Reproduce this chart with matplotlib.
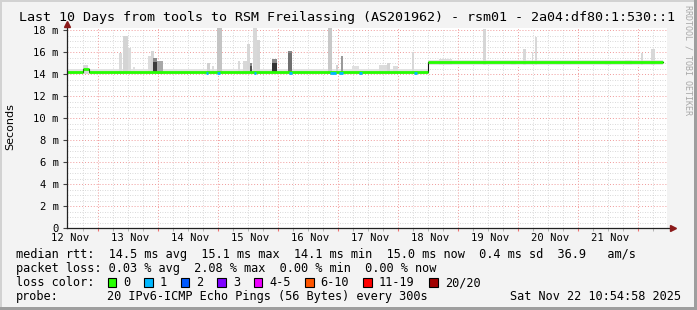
import matplotlib
matplotlib.use("Agg")
import matplotlib.pyplot as plt
from matplotlib.patches import Rectangle

W, H = 697, 310

# time axis: hours after 12 Nov 00:00
x_start, x_end = 11.6, 251.6
day_ticks = [24, 48, 72, 96, 120, 144, 168, 192, 216, 240]
day_label_pos = [12, 36, 60, 84, 108, 132, 156, 180, 204, 228]
day_labels = ["12 Nov", "13 Nov", "14 Nov", "15 Nov", "16 Nov",
              "17 Nov", "18 Nov", "19 Nov", "20 Nov", "21 Nov"]

# median rtt (ms), step changes
med_t = [11.6, 18.0, 20.4, 156.0, 250.0]
med_v = [14.2, 14.5, 14.2, 15.05, 15.05]

# background smoke band around the median
band_t = [11.6, 156.0, 156.0, 250.0]
band_lo = [14.0, 14.0, 14.85, 14.85]
band_hi = [14.45, 14.45, 15.3, 15.3]

# smoke spikes: centre time (h), width (h), top (ms), grey shade
spike_t = [19.0, 33.0, 35.0, 36.6, 38.4, 44.6, 45.8, 48.8,
           68.0, 70.0, 72.6, 80.4, 82.8, 84.2, 86.8, 88.2,
           116.8, 119.6, 121.6, 127.0, 138.0, 140.0, 143.0, 150.0,
           163.0, 178.6, 190.0, 194.6, 197.8, 199.2, 210.0, 228.0,
           236.0, 241.6, 246.0]
spike_w = [2.0, 1.2, 2.0, 1.2, 0.8, 1.2, 1.2, 2.4,
           1.2, 0.8, 2.0, 0.8, 1.6, 1.2, 1.6, 1.2,
           1.6, 0.8, 0.8, 2.8, 3.2, 1.2, 2.0, 0.8,
           5.0, 1.2, 2.0, 1.2, 0.6, 0.8, 6.0, 2.4,
           2.8, 0.6, 1.6]
spike_top = [14.8, 15.9, 17.5, 16.4, 14.6, 15.6, 16.1, 15.2,
             15.0, 14.7, 18.3, 15.2, 15.2, 16.7, 18.3, 17.1,
             18.3, 14.8, 15.6, 14.7, 14.8, 15.0, 14.7, 16.0,
             15.35, 18.1, 15.2, 16.3, 16.0, 17.4, 15.2, 15.2,
             15.3, 15.9, 16.3]
spike_c = ["#d8d8d8", "#dadada", "#d4d4d4", "#dadada", "#e0e0e0", "#dcdcdc", "#d6d6d6", "#a8a8a8",
           "#d0d0d0", "#dcdcdc", "#c4c4c4", "#dadada", "#d8d8d8", "#d6d6d6", "#d8d8d8", "#d6d6d6",
           "#c8c8c8", "#d0d0d0", "#9a9a9a", "#e0e0e0", "#dcdcdc", "#d4d4d4", "#dcdcdc", "#d8d8d8",
           "#dcdcdc", "#d6d6d6", "#dcdcdc", "#d8d8d8", "#d8d8d8", "#d8d8d8", "#e0e0e0", "#dcdcdc",
           "#dcdcdc", "#d8d8d8", "#d8d8d8"]

# dark smoke blocks (high variance with all pings)
dark_t = [46.8, 85.2, 94.6, 100.8]
dark_w = [1.6, 0.8, 2.0, 1.6]
dark_top = [15.5, 15.0, 15.4, 16.1]
dark_mid = [15.1, 14.7, 15.0, 15.9]
dark_c = ["#3c3c3c", "#505050", "#343434", "#707070"]

# intervals with 1 lost ping
loss1_t = [67.6, 72.0, 86.8, 100.8, 118.0, 121.2, 129.0, 151.0]
loss1_w = [1.0, 1.2, 1.0, 1.2, 2.4, 1.6, 1.2, 1.2]

loss_labels = ["0", "1", "2", "3", "4-5", "6-10", "11-19", "20/20"]
loss_colors = ["#26ff00", "#00b8ff", "#0059ff", "#7e00ff", "#ee00ff",
               "#ff5500", "#ff0000", "#a10000"]

MONO = "DejaVu Sans Mono"

fig = plt.figure(figsize=(W / 100, H / 100), dpi=100, facecolor="#f3f3f3")


def fx(x):
    return x / W


def fy(y):
    return 1 - y / H


# frame shading
fig.add_artist(Rectangle((0, fy(2)), 1, 2 / H, transform=fig.transFigure, color="#d2d2d2", lw=0))
fig.add_artist(Rectangle((0, 0), 2 / W, 1, transform=fig.transFigure, color="#d2d2d2", lw=0))
fig.add_artist(Rectangle((fx(694), 0), 3 / W, 1, transform=fig.transFigure, color="#9e9e9e", lw=0))
fig.add_artist(Rectangle((0, 0), 1, 3 / H, transform=fig.transFigure, color="#9e9e9e", lw=0))

ax = fig.add_axes([fx(67), fy(228), fx(600), (228 - 27.8) / H])
ax.set_facecolor("white")
ax.set_xlim(x_start, x_end)
ax.set_ylim(0, 18.2)
for s in ax.spines.values():
    s.set_visible(False)

# grid
for v in [i * 0.5 for i in range(1, 37)]:
    if v % 2 == 0:
        continue
    ax.axhline(v, color="#cccccc", lw=0.6, ls=(0, (1, 2)), zorder=0)
for h in range(18, 252, 6):
    if h % 24:
        ax.axvline(h, color="#cccccc", lw=0.6, ls=(0, (1, 2)), zorder=0)
for v in range(2, 19, 2):
    ax.axhline(v, color="#f09a9a", lw=0.7, ls=(0, (1, 2)), zorder=0.5)
for d in day_ticks:
    ax.axvline(d, color="#f09a9a", lw=0.7, ls=(0, (1, 2)), zorder=0.5)

# smoke
ax.fill_between(band_t, band_lo, band_hi, color="#e2e2e2", lw=0, zorder=1)
base = [14.0 if t < 156 else 14.85 for t in spike_t]
ax.bar(spike_t, [t - b for t, b in zip(spike_top, base)], width=spike_w, bottom=base,
       color=spike_c, lw=0, zorder=1.5)
ax.bar(dark_t, [t - 14.1 for t in dark_top], width=dark_w, bottom=14.1,
       color="#8a8a8a", lw=0, zorder=1.6)
ax.bar(dark_t, [m - 14.1 for m in dark_mid], width=dark_w, bottom=14.1,
       color=dark_c, lw=0, zorder=1.7)

# median line
ax.plot(med_t, med_v, drawstyle="steps-post", color="#111111", lw=0.8, zorder=2)
ax.hlines(med_v[:-1], med_t[:-1], med_t[1:], color="#26ff00", lw=2.0, zorder=3)
ax.hlines([14.12] * len(loss1_t), [t - w / 2 for t, w in zip(loss1_t, loss1_w)],
          [t + w / 2 for t, w in zip(loss1_t, loss1_w)], color="#00b8ff", lw=2.0, zorder=3.5)

# ticks
ax.set_yticks(range(0, 19, 2))
ax.set_yticklabels(["0"] + [f"{v} m" for v in range(2, 19, 2)], fontfamily=MONO, fontsize=7.6)
ax.tick_params(axis="y", length=3, width=0.8, color="#444444", pad=3)
ax.set_xticks(day_ticks)
ax.set_xticklabels([])
ax.set_xticks(list(range(18, 252, 6)), minor=True)
ax.tick_params(axis="x", which="major", length=2, width=0.8, color="#f07070", direction="out")
ax.tick_params(axis="x", which="minor", length=2, width=0.6, color="#aaaaaa", direction="out")
for p, lab in zip(day_label_pos, day_labels):
    ax.text(p + 0.8, -0.9, lab, ha="center", va="center", fontfamily=MONO, fontsize=7.6,
            transform=ax.transData, clip_on=False)

# axis lines with arrows
ax.plot([0, 1.008], [0, 0], transform=ax.transAxes, color="#222222", lw=0.9, clip_on=False, zorder=5)
ax.plot([0, 0], [0, 1.0], transform=ax.transAxes, color="#222222", lw=0.9, clip_on=False, zorder=5)
ax.plot([1.01], [0], transform=ax.transAxes, marker=">", ms=4, color="#8b1a1a", clip_on=False, zorder=6)
ax.plot([0], [1.02], transform=ax.transAxes, marker="^", ms=4, color="#8b1a1a", clip_on=False, zorder=6)

# texts
fig.text(fx(347), fy(18), "Last 10 Days from tools to RSM Freilassing (AS201962) - rsm01 - 2a04:df80:1:530::1",
         ha="center", va="center", fontfamily=MONO, fontsize=9.6)
fig.text(fx(10), fy(127), "Seconds", rotation=90, ha="center", va="center",
         fontfamily="DejaVu Sans", fontsize=8)
fig.text(fx(688), fy(5), "RRDTOOL / TOBI OETIKER", rotation=270, ha="center", va="top",
         fontfamily=MONO, fontsize=6, color="#a8a8a8")

fs = 8.6
cw = 7.3
fig.text(fx(16), fy(258), "median rtt:  14.5 ms avg  15.1 ms max  14.1 ms min  15.0 ms now  0.4 ms sd  36.9   am/s",
         ha="left", va="baseline", fontfamily=MONO, fontsize=fs)
fig.text(fx(16), fy(272), "packet loss: 0.03 % avg  2.08 % max  0.00 % min  0.00 % now",
         ha="left", va="baseline", fontfamily=MONO, fontsize=fs)
fig.text(fx(16), fy(286), "loss color:", ha="left", va="baseline", fontfamily=MONO, fontsize=fs)
col = 13
for lab, c in zip(loss_labels, loss_colors):
    bx = 16 + col * cw - 3
    fig.add_artist(Rectangle((fx(bx), fy(286.5)), 8.5 / W, 8.5 / H, transform=fig.transFigure,
                             facecolor=c, edgecolor="black", lw=0.8))
    fig.text(fx(16 + (col + 2) * cw - 2), fy(286), lab, ha="left", va="baseline",
             fontfamily=MONO, fontsize=fs)
    col = col + 2 + len(lab) + 2
fig.text(fx(16), fy(300), "probe:", ha="left", va="baseline", fontfamily=MONO, fontsize=fs)
fig.text(fx(107), fy(300), "20 IPv6-ICMP Echo Pings (56 Bytes) every 300s",
         ha="left", va="baseline", fontfamily=MONO, fontsize=fs)
fig.text(fx(681), fy(300), "Sat Nov 22 10:54:58 2025", ha="right", va="baseline",
         fontfamily=MONO, fontsize=fs)

fig.savefig("out.png", dpi=100, facecolor=fig.get_facecolor())
